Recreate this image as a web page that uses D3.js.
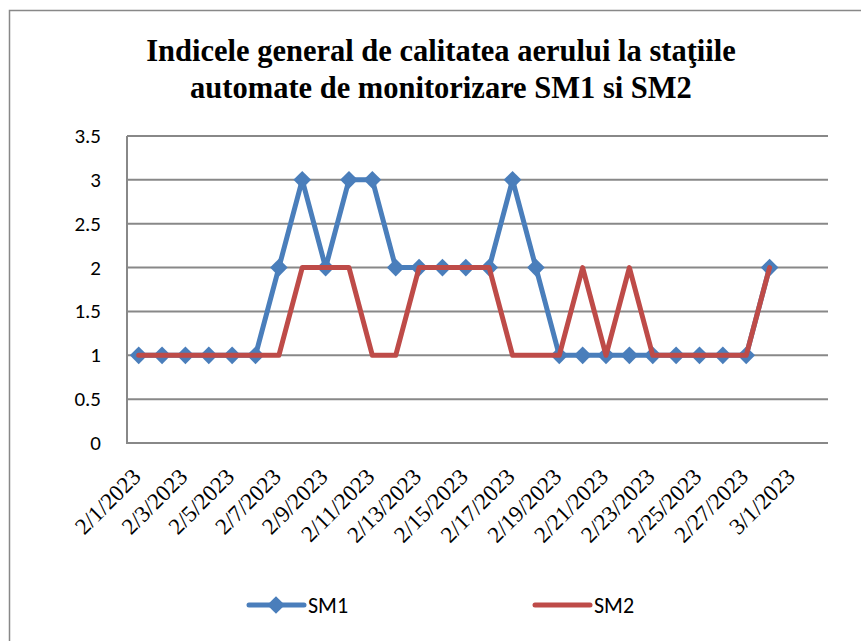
<!DOCTYPE html>
<html>
<head>
<meta charset="utf-8">
<script src="https://cdn.jsdelivr.net/npm/d3@7"></script>
<style>
  body { margin: 0; background: #fff; }
  svg { display: block; }
</style>
</head>
<body>
<script>
var width = 861, height = 641

// categories: every day 2/1/2023 .. 3/2/2023
var dates = ["2/1/2023","2/2/2023","2/3/2023","2/4/2023","2/5/2023","2/6/2023","2/7/2023",
  "2/8/2023","2/9/2023","2/10/2023","2/11/2023","2/12/2023","2/13/2023","2/14/2023",
  "2/15/2023","2/16/2023","2/17/2023","2/18/2023","2/19/2023","2/20/2023","2/21/2023",
  "2/22/2023","2/23/2023","2/24/2023","2/25/2023","2/26/2023","2/27/2023","2/28/2023",
  "3/1/2023","3/2/2023"]

// series values (first 28 days)
var sm1 = [1,1,1,1,1,1,2,3,2,3,3,2,2,2,2,2,3,2,1,1,1,1,1,1,1,1,1,2]
var sm2 = [1,1,1,1,1,1,1,2,2,2,1,1,2,2,2,2,1,1,1,2,1,2,1,1,1,1,1,2]

var yTicks = [0,0.5,1,1.5,2,2.5,3,3.5]

var blue = "#4a7ebb", red = "#be4b48", grid = "#888888"
var sans = "Carlito, 'Liberation Sans', sans-serif"
var serif = "'Liberation Serif', 'DejaVu Serif', serif"

var svg = d3.select("body").append("svg")
  .attr("width", width)
  .attr("height", height)

//outer chart border
svg.append("rect")
  .attr("x", 9.5).attr("y", 10.5)
  .attr("width", width).attr("height", height)
  .attr("fill", "none")
  .attr("stroke", grid)
  .attr("stroke-width", 1.5)

//title
var title = svg.append("text")
  .attr("text-anchor", "middle")
  .style("font-family", serif)
  .attr("font-weight", "bold")
  .attr("font-size", 30.5)
title.append("tspan").attr("x", 441).attr("y", 61).text("Indicele general de calitatea aerului la staţiile")
title.append("tspan").attr("x", 441).attr("y", 98).text("automate de monitorizare SM1 si SM2")

var x = d3.scalePoint()
  .domain(dates)
  .range([127, 828])
  .padding(0.5)

var y = d3.scaleLinear()
  .domain([0, 3.5])
  .range([443, 136])

//gridlines
svg.append("g")
  .selectAll("line")
  .data(yTicks)
  .enter().append("line")
  .attr("x1", 127).attr("x2", 828)
  .attr("y1", function(d) { return y(d) })
  .attr("y2", function(d) { return y(d) })
  .attr("stroke", grid)
  .attr("stroke-width", 2)

//y axis line
svg.append("line")
  .attr("x1", 127).attr("x2", 127)
  .attr("y1", y(3.5)).attr("y2", y(0) + 1)
  .attr("stroke", grid)
  .attr("stroke-width", 2)

//y labels
svg.append("g")
  .selectAll("text")
  .data(yTicks)
  .enter().append("text")
  .attr("x", 101)
  .attr("y", function(d) { return y(d) + 7 })
  .attr("text-anchor", "end")
  .style("font-family", sans)
  .attr("font-size", 21)
  .attr("fill", "#000")
  .text(function(d) { return d })

//x labels, every second date
svg.append("g")
  .selectAll("text")
  .data(dates.filter(function(d, i) { return i % 2 == 0 }))
  .enter().append("text")
  .attr("transform", function(d) { return "translate(" + (x(d) + 3.5) + ",478) rotate(-45)" })
  .attr("text-anchor", "end")
  .style("font-family", serif)
  .attr("font-size", 23)
  .attr("fill", "#000")
  .text(function(d) { return d })

var line = d3.line()
  .x(function(d, i) { return x(dates[i]) })
  .y(function(d) { return y(d) })

//SM1 line + markers
svg.append("path")
  .datum(sm1)
  .attr("d", line)
  .attr("fill", "none")
  .attr("stroke", blue)
  .attr("stroke-width", 5)
  .attr("stroke-linejoin", "round")
  .attr("stroke-linecap", "round")

var diamond = d3.symbol().type(d3.symbolDiamond2).size(200)

svg.append("g")
  .selectAll("path")
  .data(sm1)
  .enter().append("path")
  .attr("d", diamond)
  .attr("transform", function(d, i) { return "translate(" + x(dates[i]) + "," + y(d) + ")" })
  .attr("fill", blue)

//SM2 line
svg.append("path")
  .datum(sm2)
  .attr("d", line)
  .attr("fill", "none")
  .attr("stroke", red)
  .attr("stroke-width", 5)
  .attr("stroke-linejoin", "round")
  .attr("stroke-linecap", "round")

//legend
var legend = [
  {name: "SM1", color: blue, marker: true, x: 249},
  {name: "SM2", color: red, marker: false, x: 535}
]
var lg = svg.append("g")
  .selectAll("g")
  .data(legend)
  .enter().append("g")
  .attr("transform", function(d) { return "translate(" + d.x + ",605)" })

lg.append("line")
  .attr("x1", 0).attr("x2", 55)
  .attr("stroke", function(d) { return d.color })
  .attr("stroke-width", 5)
  .attr("stroke-linecap", "round")

lg.filter(function(d) { return d.marker }).append("path")
  .attr("d", diamond)
  .attr("transform", "translate(27,0)")
  .attr("fill", function(d) { return d.color })

lg.append("text")
  .attr("x", 59)
  .attr("y", 8)
  .style("font-family", sans)
  .attr("font-size", 22)
  .attr("fill", "#000")
  .text(function(d) { return d.name })
</script>
</body>
</html>
